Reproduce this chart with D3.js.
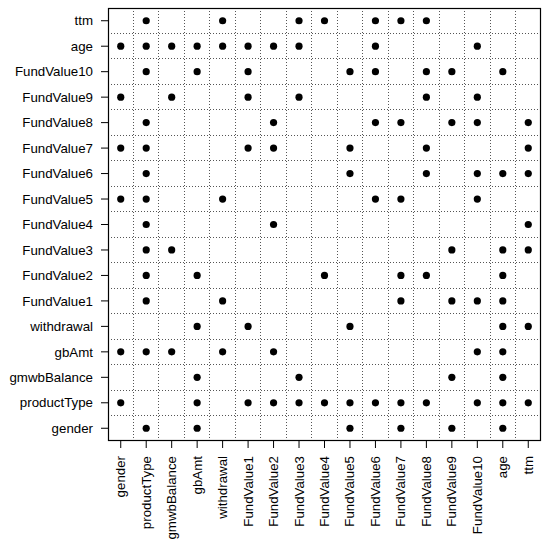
<!DOCTYPE html>
<html><head><meta charset="utf-8">
<script src="https://cdn.jsdelivr.net/npm/d3@7"></script>
<style>body{margin:0;background:#fff}svg{display:block}</style>
</head><body>
<script>
// Variables (columns left→right, rows bottom→top)
const variables = ["gender","productType","gmwbBalance","gbAmt","withdrawal",
  "FundValue1","FundValue2","FundValue3","FundValue4","FundValue5","FundValue6",
  "FundValue7","FundValue8","FundValue9","FundValue10","age","ttm"];

// Marked cells: [row variable, columns with a dot]
const marked = [
  ["ttm", ["productType","withdrawal","FundValue3","FundValue4","FundValue6","FundValue7","FundValue8"]],
  ["age", ["gender","productType","gmwbBalance","gbAmt","withdrawal","FundValue1","FundValue2","FundValue3","FundValue6","FundValue10"]],
  ["FundValue10", ["productType","gbAmt","FundValue1","FundValue5","FundValue6","FundValue8","FundValue9","age"]],
  ["FundValue9", ["gender","gmwbBalance","FundValue1","FundValue3","FundValue8","FundValue10"]],
  ["FundValue8", ["productType","FundValue2","FundValue6","FundValue7","FundValue9","FundValue10","ttm"]],
  ["FundValue7", ["gender","productType","FundValue1","FundValue2","FundValue5","FundValue8","ttm"]],
  ["FundValue6", ["productType","FundValue5","FundValue8","FundValue10","age","ttm"]],
  ["FundValue5", ["gender","productType","withdrawal","FundValue6","FundValue7","FundValue10"]],
  ["FundValue4", ["productType","FundValue2","ttm"]],
  ["FundValue3", ["productType","gmwbBalance","FundValue9","age","ttm"]],
  ["FundValue2", ["productType","gbAmt","FundValue4","FundValue7","FundValue8","age"]],
  ["FundValue1", ["productType","withdrawal","FundValue7","FundValue9","FundValue10","age"]],
  ["withdrawal", ["gbAmt","FundValue1","FundValue5","age","ttm"]],
  ["gbAmt", ["gender","productType","gmwbBalance","withdrawal","FundValue2","FundValue10","age"]],
  ["gmwbBalance", ["gbAmt","FundValue3","FundValue9","age"]],
  ["productType", ["gender","gbAmt","FundValue1","FundValue2","FundValue3","FundValue4","FundValue5","FundValue6","FundValue7","FundValue8","FundValue10","age","ttm"]],
  ["gender", ["productType","gbAmt","FundValue5","FundValue7","FundValue9","age"]]
];

const W = 550, H = 548;
const L = 108, R = 541, T = 8, B = 441;
const font = "'Liberation Sans', Arial, Helvetica, sans-serif";
const fs = 13.3;

const svg = d3.select("body").append("svg").attr("width", W).attr("height", H);

const x = d3.scaleBand().domain(variables).range([L, R]).padding(0);
const y = d3.scaleBand().domain(variables.slice().reverse()).range([T, B]).padding(0);
const cx = v => x(v) + x.bandwidth() / 2;
const cy = v => y(v) + y.bandwidth() / 2;

// dotted grid at band boundaries
const g = svg.append("g");
variables.slice(1).forEach(v => {
  g.append("line").attr("x1", x(v)).attr("x2", x(v)).attr("y1", T).attr("y2", B)
    .attr("stroke", "#555").attr("stroke-width", 1).attr("stroke-dasharray", "1,2")
    .attr("shape-rendering", "crispEdges");
});
variables.slice(1).forEach(v => {
  const yy = y(v) + y.bandwidth();
  g.append("line").attr("x1", L).attr("x2", R).attr("y1", yy).attr("y2", yy)
    .attr("stroke", "#555").attr("stroke-width", 1).attr("stroke-dasharray", "1,2")
    .attr("shape-rendering", "crispEdges");
});

// dots
const pts = [];
marked.forEach(([r, cols]) => cols.forEach(c => pts.push({r, c})));
svg.append("g").selectAll("circle").data(pts).join("circle")
  .attr("cx", d => cx(d.c)).attr("cy", d => cy(d.r)).attr("r", 3.6).attr("fill", "#000");

// box
svg.append("rect").attr("x", L + 0.5).attr("y", T + 0.5).attr("width", R - L - 1).attr("height", B - T - 1)
  .attr("fill", "none").attr("stroke", "#000").attr("stroke-width", 1.2);

// left axis
const ax = svg.append("g");
variables.forEach(v => {
  ax.append("line").attr("x1", L - 7).attr("x2", L).attr("y1", cy(v)).attr("y2", cy(v))
    .attr("stroke", "#000").attr("stroke-width", 1);
  ax.append("text").attr("x", 93).attr("y", cy(v)).attr("dy", "0.35em")
    .attr("text-anchor", "end").attr("font-family", font).attr("font-size", fs).text(v);
});
// bottom axis
variables.forEach(v => {
  ax.append("line").attr("x1", cx(v)).attr("x2", cx(v)).attr("y1", B).attr("y2", B + 7)
    .attr("stroke", "#000").attr("stroke-width", 1);
  ax.append("text").attr("transform", `translate(${cx(v) + 4.5},456) rotate(-90)`)
    .attr("text-anchor", "end").attr("font-family", font).attr("font-size", fs).text(v);
});
</script>
</body></html>
